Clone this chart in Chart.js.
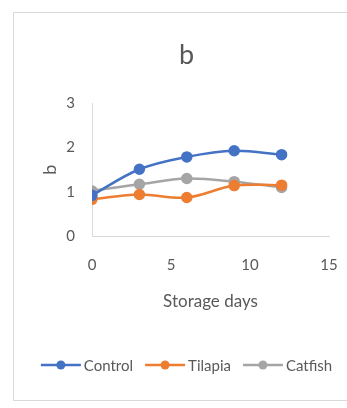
<!DOCTYPE html>
<html>
<head>
<meta charset="utf-8">
<script src="https://cdn.jsdelivr.net/npm/chart.js@4"></script>
<style>
  html, body { margin: 0; padding: 0; background: #fff; overflow: hidden; }
  #frame {
    position: absolute; left: 13px; top: 12px;
    width: 345px; height: 387px;
    border: 1px solid #d9d9d9; background: #fff;
  }
  #frame canvas { display: block; }
</style>
</head>
<body>
<div id="frame"><canvas id="c" width="345" height="387"></canvas></div>
<script>
// Storage days sampled for each sample group
const days = [0, 3, 6, 9, 12];
const seriesNames = ['Control', 'Tilapia', 'Catfish'];
const control = [0.92, 1.51, 1.79, 1.93, 1.84];
const tilapia = [0.83, 0.94, 0.87, 1.14, 1.15];
const catfish = [1.02, 1.17, 1.30, 1.23, 1.10];
const xTicks = [0, 5, 10, 15];
const yTicks = [0, 1, 2, 3];
const colors = ['#4472C4', '#ED7D31', '#A5A5A5'];

const FONT = 'Lato, "Open Sans", sans-serif';
const TEXT = '#595959';

function points(vals) {
  return days.map((d, i) => ({ x: d, y: vals[i] }));
}

// Legend: line segment with a round marker, followed by the series name
const lineLegend = {
  id: 'lineLegend',
  afterDraw(chart) {
    const ctx = chart.ctx;
    const y = 352;
    const seg = 40, gap = 3, itemGap = 12, r = 4.5;
    ctx.save();
    ctx.font = '15px ' + FONT;
    ctx.textBaseline = 'middle';
    const items = chart.data.datasets.map(ds => ({
      label: ds.label, color: ds.borderColor, w: seg + gap + ctx.measureText(ds.label).width
    }));
    const total = items.reduce((s, it) => s + it.w, 0) + itemGap * (items.length - 1);
    let x = (chart.width - total) / 2;
    items.forEach(it => {
      ctx.strokeStyle = it.color;
      ctx.lineWidth = 2.5;
      ctx.beginPath();
      ctx.moveTo(x, y);
      ctx.lineTo(x + seg, y);
      ctx.stroke();
      ctx.fillStyle = it.color;
      ctx.beginPath();
      ctx.arc(x + seg / 2, y, r, 0, Math.PI * 2);
      ctx.fill();
      ctx.fillStyle = TEXT;
      ctx.fillText(it.label, x + seg + gap, y + 1);
      x += it.w + itemGap;
    });
    ctx.restore();
  }
};

const seriesData = [control, tilapia, catfish];

new Chart(document.getElementById('c'), {
  type: 'scatter',
  data: {
    datasets: seriesNames.map((name, i) => ({
      label: name,
      data: points(seriesData[i]),
      showLine: true,
      borderColor: colors[i],
      backgroundColor: colors[i],
      borderWidth: 2.5,
      pointRadius: 4.5,
      pointHoverRadius: 4.5,
      tension: 0.35
    }))
  },
  options: {
    responsive: false,
    animation: false,
    layout: { padding: { left: 0, right: 0, top: 0, bottom: 64 } },
    plugins: {
      legend: { display: false },
      tooltip: { enabled: false },
      title: {
        display: true,
        text: 'b',
        color: TEXT,
        font: { family: FONT, size: 27, weight: 'normal', lineHeight: 1.2 },
        padding: { top: 26, bottom: 32 }
      }
    },
    scales: {
      x: {
        type: 'linear',
        min: 0, max: 15,
        afterBuildTicks(s) { s.ticks = xTicks.map(v => ({ value: v })); },
        afterFit(s) { s.height = 100; },
        grid: { display: false, drawTicks: false },
        border: { display: true, color: '#d9d9d9', width: 1 },
        ticks: { color: TEXT, font: { family: FONT, size: 15 }, padding: 20 },
        title: {
          display: true, text: 'Storage days', color: TEXT,
          font: { family: FONT, size: 17, lineHeight: 1.2 },
          padding: { top: 0, bottom: 24 }
        }
      },
      y: {
        type: 'linear',
        min: 0, max: 3,
        afterBuildTicks(s) { s.ticks = yTicks.map(v => ({ value: v })); },
        afterFit(s) { s.width = 78; },
        grid: { display: false, drawTicks: false },
        border: { display: true, color: '#d9d9d9', width: 1 },
        ticks: { color: TEXT, font: { family: FONT, size: 15 }, padding: 17 },
        title: {
          display: true, text: 'b', color: TEXT,
          font: { family: FONT, size: 18, lineHeight: 1.2 },
          padding: { top: 25, bottom: 0 }
        }
      },
      spacer: {
        type: 'linear',
        position: 'right',
        display: true,
        afterFit(s) { s.width = 30; },
        grid: { display: false, drawTicks: false },
        border: { display: false },
        ticks: { display: false }
      }
    }
  },
  plugins: [lineLegend]
});
</script>
</body>
</html>
